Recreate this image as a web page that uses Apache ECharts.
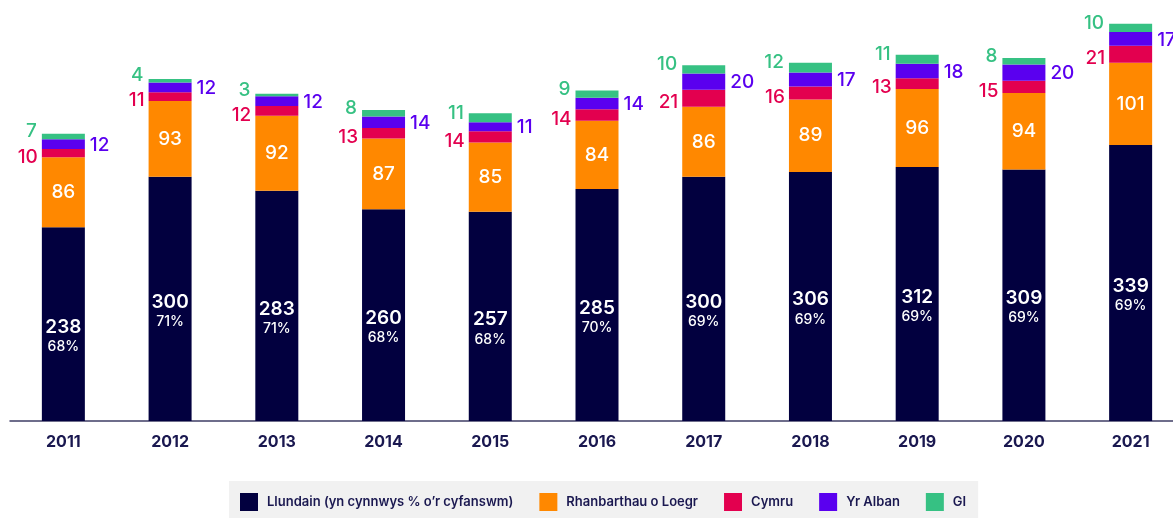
<!DOCTYPE html>
<html>
<head>
<meta charset="utf-8">
<script src="https://cdn.jsdelivr.net/npm/echarts@6/dist/echarts.min.js"></script>
<style>
  html, body { margin: 0; padding: 0; background: #fff; overflow: hidden; }
  /* the last bar runs past the right edge in the original, so the chart is a bit wider than the page */
  #chart { width: 1184px; height: 518px; }
</style>
</head>
<body>
<div id="chart"></div>
<script>
// blynyddoedd
var years = ['2011', '2012', '2013', '2014', '2015', '2016', '2017', '2018', '2019', '2020', '2021']
var llundain = [238, 300, 283, 260, 257, 285, 300, 306, 312, 309, 339]
var llundainPct = ['68%', '71%', '71%', '68%', '68%', '70%', '69%', '69%', '69%', '69%', '69%']
var rhanbarthau = [86, 93, 92, 87, 85, 84, 86, 89, 96, 94, 101]
var cymru = [10, 11, 12, 13, 14, 14, 21, 16, 13, 15, 21]
var yrAlban = [12, 12, 12, 14, 11, 14, 20, 17, 18, 20, 17]
var gi = [7, 4, 3, 8, 11, 9, 10, 12, 11, 8, 10]

var colors = {
  navy: '#02003f',
  orange: '#ff8800',
  red: '#e3004f',
  purple: '#5a00ef',
  green: '#36c183',
  text: '#1a1850'
}

var font = 'Inter, "Noto Sans", sans-serif'

var myChart = echarts.init(document.getElementById('chart'))

var option = {
  animation: false,
  textStyle: { fontFamily: font },
  grid: { left: 10, right: 0, top: 14, bottom: 97 },
  legend: {
    top: 481,
    left: 229,
    backgroundColor: '#f1f1f1',
    padding: [12, 12, 12, 11],
    itemWidth: 18,
    itemHeight: 18,
    itemGap: 26,
    icon: 'rect',
    textStyle: {
      color: colors.text, fontSize: 13, fontWeight: 600, fontFamily: font,
      padding: [0, 0, 0, 4]
    },
    data: ['Llundain (yn cynnwys % o\u2019r cyfanswm)', 'Rhanbarthau o Loegr', 'Cymru', 'Yr Alban', 'GI']
  },
  xAxis: {
    type: 'category',
    data: years,
    axisLine: { lineStyle: { color: '#3f3e66', width: 1.5 } },
    axisTick: { show: false },
    axisLabel: { color: colors.text, fontSize: 16, fontWeight: 700, margin: 13 }
  },
  yAxis: {
    type: 'value',
    min: 0,
    max: 500,
    show: false,
    splitLine: { show: false }
  },
  series: [
    {
      name: 'Llundain (yn cynnwys % o\u2019r cyfanswm)',
      type: 'bar',
      stack: 'all',
      barWidth: 43,
      data: llundain,
      itemStyle: { color: colors.navy },
      label: {
        show: true,
        position: 'inside',
        offset: [0, 12],
        formatter: function (p) {
          return '{a|' + p.value + '}\n{b|' + llundainPct[p.dataIndex] + '}'
        },
        rich: {
          a: { color: '#fff', fontSize: 19, fontWeight: 600, lineHeight: 22, fontFamily: font },
          b: { color: '#fff', fontSize: 14, fontWeight: 500, lineHeight: 18, fontFamily: font }
        }
      }
    },
    {
      name: 'Rhanbarthau o Loegr',
      type: 'bar',
      stack: 'all',
      data: rhanbarthau,
      itemStyle: { color: colors.orange },
      label: {
        show: true,
        position: 'inside',
        color: '#fff',
        fontSize: 19,
        fontWeight: 500
      }
    },
    {
      name: 'Cymru',
      type: 'bar',
      stack: 'all',
      data: cymru,
      itemStyle: { color: colors.red },
      label: {
        show: true,
        position: 'left',
        distance: 4,
        offset: [0, 4],
        color: colors.red,
        fontSize: 19,
        fontWeight: 500
      }
    },
    {
      name: 'Yr Alban',
      type: 'bar',
      stack: 'all',
      data: yrAlban,
      itemStyle: { color: colors.purple },
      label: {
        show: true,
        position: 'right',
        distance: 5,
        offset: [0, 1],
        color: colors.purple,
        fontSize: 19,
        fontWeight: 500
      }
    },
    {
      name: 'GI',
      type: 'bar',
      stack: 'all',
      data: gi,
      itemStyle: { color: colors.green },
      label: {
        show: true,
        position: 'left',
        distance: 5,
        offset: [0, -5],
        color: colors.green,
        fontSize: 19,
        fontWeight: 500
      }
    }
  ]
}

myChart.setOption(option)
</script>
</body>
</html>
